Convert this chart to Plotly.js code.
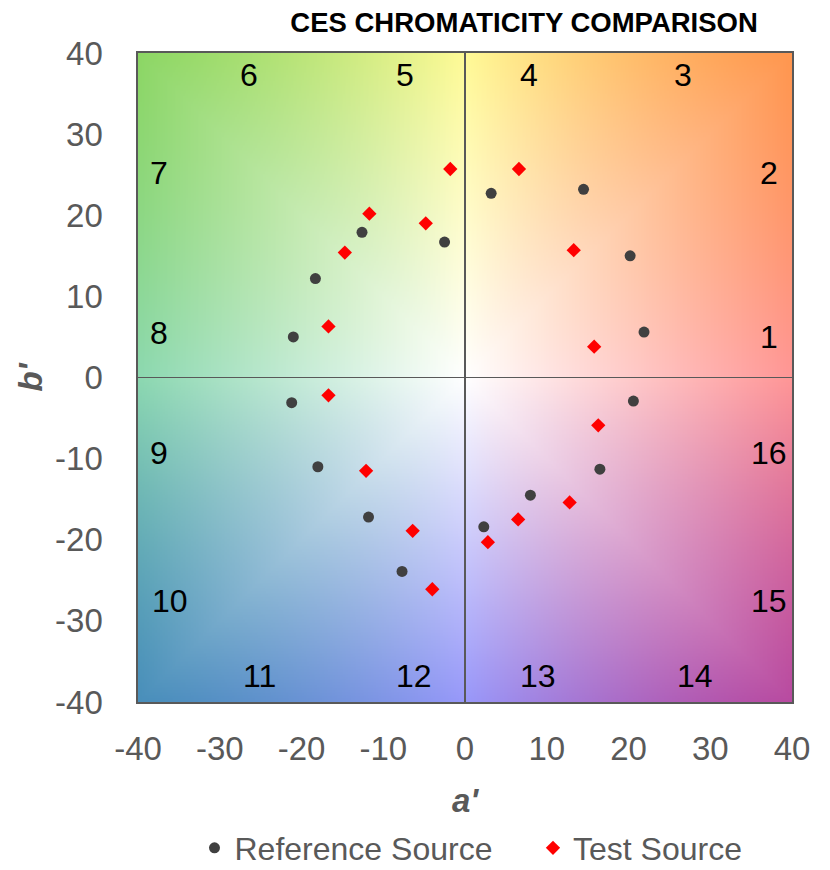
<!DOCTYPE html>
<html>
<head>
<meta charset="utf-8">
<script src="https://cdn.plot.ly/plotly-3.0.1.min.js"></script>
<style>
  html, body { margin: 0; padding: 0; background: #ffffff; }
  #chart { width: 830px; height: 870px; }
</style>
</head>
<body>
<div id="chart"></div>
<script>
// Hue-bin chromaticity coordinates (a', b'), one point per bin 1..16
const refA  = [21.9, 20.2, 14.5, 3.2, -2.5, -12.6, -18.3, -21.0, -21.2, -18.0, -11.8, -7.7, 2.3, 8.0, 16.5, 20.6];
const refB  = [5.6, 15.0, 23.2, 22.7, 16.7, 17.9, 12.2, 5.0, -3.1, -11.0, -17.2, -23.9, -18.4, -14.5, -11.3, -2.9];
const testA = [15.8, 13.3, 6.6, -1.8, -4.8, -11.7, -14.7, -16.7, -16.7, -12.1, -6.4, -4.0, 2.8, 6.5, 12.8, 16.3];
const testB = [3.8, 15.7, 25.7, 25.7, 19.0, 20.2, 15.4, 6.3, -2.2, -11.5, -18.9, -26.1, -20.3, -17.5, -15.4, -5.9];

const seriesNames = ['Reference Source', 'Test Source'];
const binLabels = ['1','2','3','4','5','6','7','8','9','10','11','12','13','14','15','16'];
const tickVals  = [-40, -30, -20, -10, 0, 10, 20, 30, 40];
const axisLimit = 40;

const FONT = '"Liberation Sans", Arial, sans-serif';
const GREY = '#595959';
const NBSP = '\u00a0';

// Colour-wheel backdrop: hue by angle, saturation growing toward the frame
const wheel = [
  [255, 150, 150], // 0°
  [255, 150, 78],  // 45°
  [255, 250, 150], // 90°
  [140, 214, 100], // 135°
  [140, 216, 176], // 180°
  [72, 142, 186],  // 225°
  [152, 152, 250], // 270°
  [184, 74, 160]   // 315°
];
function backdropURL(n) {
  const cv = document.createElement('canvas');
  cv.width = n; cv.height = n;
  const ctx = cv.getContext('2d');
  const img = ctx.createImageData(n, n);
  for (let j = 0; j < n; j++) {
    for (let i = 0; i < n; i++) {
      const a = -axisLimit + (i + 0.5) * 2 * axisLimit / n;
      const b = axisLimit - (j + 0.5) * 2 * axisLimit / n;
      const r = Math.hypot(a, b);
      let ang = Math.atan2(b, a); if (ang < 0) ang += 2 * Math.PI;
      const edge = axisLimit / Math.max(Math.abs(Math.cos(ang)), Math.abs(Math.sin(ang)));
      const t = Math.min(1, r / edge);
      const s = ang / (Math.PI / 4);
      const k = Math.floor(s) % 8, f = s - Math.floor(s);
      const c0 = wheel[k], c1 = wheel[(k + 1) % 8];
      const p = (j * n + i) * 4;
      for (let q = 0; q < 3; q++) {
        const hue = c0[q] + (c1[q] - c0[q]) * f;
        img.data[p + q] = Math.round(255 + (hue - 255) * t);
      }
      img.data[p + 3] = 255;
    }
  }
  ctx.putImageData(img, 0, 0);
  return cv.toDataURL('image/png');
}

// Radial dividers every 22.5°, skipping the axes themselves
const shapes = [];
for (let k = 1; k < 16; k++) {
  if (k % 4 === 0) continue;
  const th = k * Math.PI / 8;
  const L = axisLimit / Math.max(Math.abs(Math.cos(th)), Math.abs(Math.sin(th)));
  shapes.push({
    type: 'line', xref: 'x', yref: 'y', layer: 'below',
    x0: 0, y0: 0, x1: L * Math.cos(th), y1: L * Math.sin(th),
    line: { color: '#c3c3c3', width: 1.6 }
  });
}

// Bin numbers placed near the frame along each bin's centre direction
const labelInset = [
  [37.2, 5.0], [37.2, 25.2], [26.7, 37.3], [7.8, 37.3],
  [-7.4, 37.3], [-26.4, 37.3], [-37.4, 25.2], [-37.4, 5.5],
  [-37.4, -9.3], [-36.1, -27.5], [-25.1, -36.8], [-6.2, -36.8],
  [8.9, -36.8], [28.1, -36.8], [37.2, -27.5], [37.2, -9.3]
];
const annotations = binLabels.map((t, i) => ({
  x: labelInset[i][0], y: labelInset[i][1], xref: 'x', yref: 'y',
  text: t, showarrow: false, xanchor: 'center', yanchor: 'middle',
  font: { family: FONT, size: 32, color: '#000000' }
}));

const traces = [
  {
    type: 'scatter', mode: 'markers', name: seriesNames[0] + NBSP.repeat(4),
    x: refA, y: refB,
    marker: { symbol: 'circle', size: 11, color: '#404040' },
    hoverinfo: 'skip'
  },
  {
    type: 'scatter', mode: 'markers', name: seriesNames[1],
    x: testA, y: testB,
    marker: { symbol: 'diamond', size: 11, color: '#ff0000' },
    hoverinfo: 'skip'
  }
];

const axisCommon = {
  range: [-axisLimit, axisLimit],
  tickmode: 'array', tickvals: tickVals, ticktext: tickVals.map(String),
  showgrid: false, zeroline: true, zerolinecolor: GREY, zerolinewidth: 1.6,
  showline: true, mirror: true, linecolor: GREY, linewidth: 1.6,
  ticks: '', tickfont: { family: FONT, size: 33, color: GREY },
  fixedrange: true, automargin: false
};

const layout = {
  width: 830, height: 870,
  margin: { l: 138, r: 38, t: 53, b: 168 },
  paper_bgcolor: '#ffffff', plot_bgcolor: '#ffffff',
  title: {
    text: 'CES CHROMATICITY COMPARISON',
    font: { family: FONT, size: 27.5, color: '#000000', weight: 'bold' },
    x: 490 / 830, xanchor: 'center', xref: 'paper',
    y: 1 - 22 / 870, yanchor: 'middle', yref: 'container'
  },
  xaxis: Object.assign({}, axisCommon, {
    ticklabelstandoff: 17,
    title: { text: "<b><i>a'</i></b>", font: { family: FONT, size: 33, color: GREY }, standoff: 22 }
  }),
  yaxis: Object.assign({}, axisCommon, {
    ticklabelstandoff: 27,
    title: { text: "<b><i>b'</i></b>", font: { family: FONT, size: 33, color: GREY }, standoff: 2 }
  }),
  showlegend: true,
  legend: {
    orientation: 'h', x: 471 / 830, xanchor: 'center', xref: 'container',
    y: (870 - 848) / 870, yanchor: 'middle', yref: 'container',
    font: { family: FONT, size: 32, color: GREY },
    itemsizing: 'trace', bgcolor: 'rgba(0,0,0,0)'
  },
  images: [{
    source: backdropURL(400), xref: 'x', yref: 'y',
    x: -axisLimit, y: axisLimit, sizex: 2 * axisLimit, sizey: 2 * axisLimit,
    sizing: 'stretch', layer: 'below', xanchor: 'left', yanchor: 'top'
  }],
  shapes: shapes,
  annotations: annotations
};

Plotly.newPlot('chart', traces, layout, { displayModeBar: false, staticPlot: true });
</script>
</body>
</html>
